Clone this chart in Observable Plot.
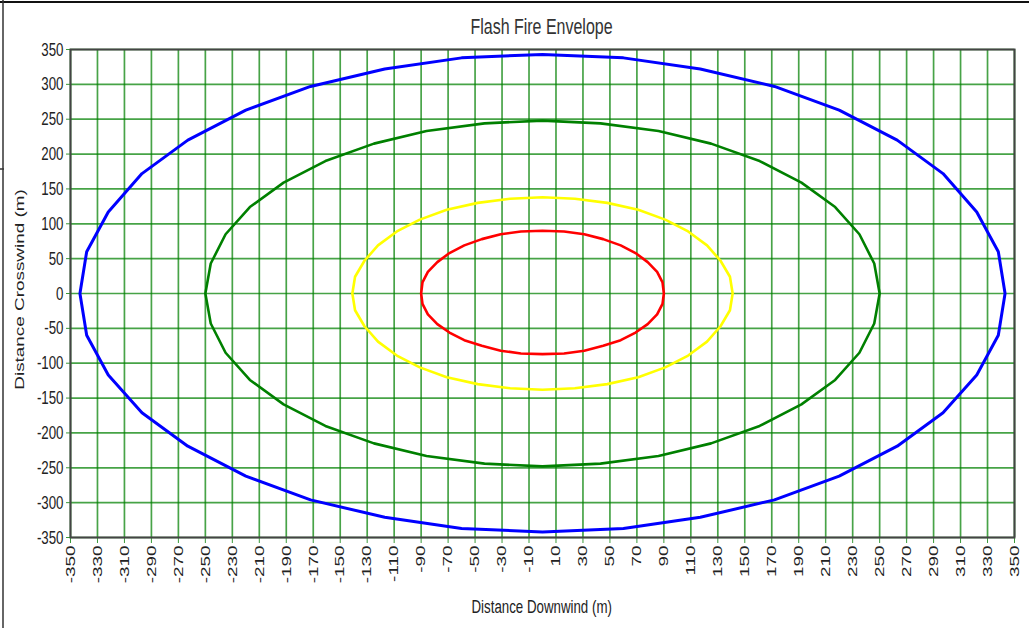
<!DOCTYPE html>
<html><head><meta charset="utf-8">
<script src="https://cdn.jsdelivr.net/npm/d3@7"></script>
<script src="https://cdn.jsdelivr.net/npm/@observablehq/plot@0.6"></script>
<style>body{margin:0;background:#fff;} svg{display:block}</style>
</head><body><div id="chart"></div>
<script>
const titleText = "Flash Fire Envelope";
const xLabel = "Distance Downwind (m)";
const yLabel = "Distance Crosswind (m)";
const xTicks = [-350,-330,-310,-290,-270,-250,-230,-210,-190,-170,-150,-130,-110,-90,-70,-50,-30,-10,10,30,50,70,90,110,130,150,170,190,210,230,250,270,290,310,330,350];
const yTicks = [-350,-300,-250,-200,-150,-100,-50,0,50,100,150,200,250,300,350];

const blueX = [343,338,322,297,263,220,172,117,60,0,-60,-117,-172,-220,-263,-297,-322,-338,-343,-338,-322,-297,-263,-220,-172,-117,-60,0,60,117,172,220,263,297,322,338,343];
const blueY = [0,60,117,172,220,263,297,322,338,343,338,322,297,263,220,172,117,60,0,-60,-117,-171,-219,-262,-296,-321,-337,-342,-337,-321,-296,-262,-219,-171,-117,-60,0];
const greenX = [250,246,235,217,192,161,125,86,43,0,-43,-86,-125,-161,-192,-217,-235,-246,-250,-246,-235,-217,-192,-161,-125,-86,-43,0,43,86,125,161,192,217,235,246,250];
const greenY = [0,43,85,124,159,190,215,233,244,248,244,233,215,190,159,124,85,43,0,-43,-85,-124,-159,-190,-215,-233,-244,-248,-244,-233,-215,-190,-159,-124,-85,-43,0];
const yellowX = [141,139,132,122,108,91,71,48,24,0,-24,-48,-71,-91,-108,-122,-132,-139,-141,-139,-132,-122,-108,-91,-71,-48,-24,0,24,48,71,91,108,122,132,139,141];
const yellowY = [0,24,47,69,89,106,120,130,136,138,136,130,120,106,89,69,47,24,0,-24,-47,-69,-89,-106,-120,-130,-136,-138,-136,-130,-120,-106,-89,-69,-47,-24,0];
const redX = [90,89,85,78,69,58,45,31,16,0,-16,-31,-45,-58,-69,-78,-85,-89,-90,-89,-85,-78,-69,-58,-45,-31,-16,0,16,31,45,58,69,78,85,89,90];
const redY = [0,16,31,45,58,69,78,85,89,90,89,85,78,69,58,45,31,16,0,-15,-30,-44,-56,-67,-75,-82,-86,-87,-86,-82,-75,-67,-56,-44,-30,-15,0];

const series = [
  {name: "blue", color: "#0000ff", w: 3, xs: blueX, ys: blueY},
  {name: "green", color: "#008000", w: 2.6, xs: greenX, ys: greenY},
  {name: "yellow", color: "#ffff00", w: 2.6, xs: yellowX, ys: yellowY},
  {name: "red", color: "#ff0000", w: 2.6, xs: redX, ys: redY}
];

const SY = 1.42; // vertical text stretch seen in the reference
const FONT = "'Liberation Sans', Arial, sans-serif";
const gridStyle = {stroke: "#008000", strokeOpacity: 0.72, strokeWidth: 1.7};

const chart = Plot.plot({
  width: 1029, height: 628,
  marginLeft: 70, marginRight: 15, marginTop: 49, marginBottom: 91,
  x: {domain: [-350, 350]},
  y: {domain: [-350, 350]},
  style: {background: "#fff", fontFamily: FONT, color: "#222"},
  marks: [
    Plot.gridX(xTicks, gridStyle),
    Plot.gridY(yTicks, gridStyle),
    Plot.axisX(xTicks, {tickSize: 6, tickPadding: 2, tickRotate: -90, stroke: "#3a9a3a", fill: "#222", fontSize: 13.3, label: null, tickFormat: d => String(d)}),
    Plot.axisY(yTicks, {tickSize: 4, tickPadding: 3, tickRotate: 0.001, stroke: "#3a9a3a", fill: "#222", fontSize: 13.3, label: null, tickFormat: d => String(d)}),
    ...series.map(s => Plot.line(s.xs.map((x, i) => ({x, y: s.ys[i]})), {x: "x", y: "y", stroke: s.color, strokeWidth: s.w, strokeLinejoin: "round"})),
    Plot.frame({stroke: "#444", strokeWidth: 2})
  ]
});

const svg = d3.select(chart);
// stretch rotated x tick labels along their reading direction
svg.selectAll('g[aria-label="x-axis tick label"] text').each(function () {
  const t = this.getAttribute("transform") || "";
  this.setAttribute("transform", t + ` scale(${SY},1)`);
});
// stretch y tick labels vertically
svg.selectAll('g[aria-label="y-axis tick label"] text').each(function () {
  const t = this.getAttribute("transform") || "";
  this.setAttribute("transform", t + ` scale(1,${SY})`);
});
svg.append("text").attr("transform", `translate(541.5,34) scale(1,${SY})`).attr("text-anchor", "middle")
  .attr("font-family", FONT).attr("font-size", 16).attr("fill", "#333").text(titleText);
svg.append("text").attr("transform", `translate(541.7,613) scale(1,${SY})`).attr("text-anchor", "middle")
  .attr("font-family", FONT).attr("font-size", 13.3).attr("fill", "#222").text(xLabel);
svg.append("text").attr("transform", `translate(23.5,289.5) rotate(-90) scale(${SY},1)`).attr("text-anchor", "middle")
  .attr("font-family", FONT).attr("font-size", 13.3).attr("fill", "#222").text(yLabel);
// outer window border
svg.append("line").attr("x1", 0).attr("x2", 1029).attr("y1", 2).attr("y2", 2).attr("stroke", "#111").attr("stroke-width", 2);
svg.append("line").attr("x1", 3).attr("x2", 3).attr("y1", 0).attr("y2", 628).attr("stroke", "#333").attr("stroke-width", 1.5);
svg.append("line").attr("x1", 0).attr("x2", 4).attr("y1", 169).attr("y2", 169).attr("stroke", "#333").attr("stroke-width", 1.5);
document.getElementById("chart").append(chart);
</script>
</body></html>
